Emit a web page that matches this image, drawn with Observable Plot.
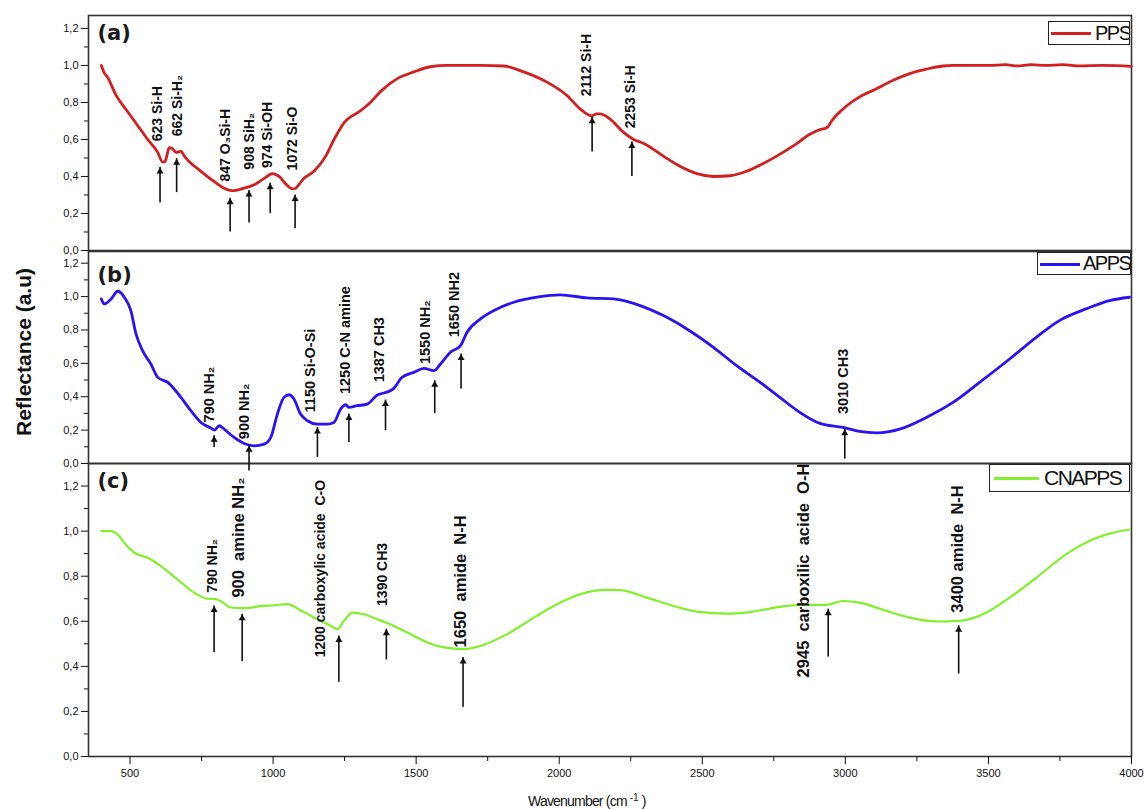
<!DOCTYPE html>
<html><head><meta charset="utf-8">
<script src="https://cdn.jsdelivr.net/npm/d3@7"></script>
<script src="https://cdn.jsdelivr.net/npm/@observablehq/plot@0.6"></script>
<style>
body{margin:0;background:#fff;}
#wrap{position:relative;width:1144px;height:809px;overflow:hidden;background:#fff;font-family:"Liberation Sans",Arial,sans-serif;color:#111;}
.panel{position:absolute;left:0;}
.legend{position:absolute;border:1px solid #222;overflow:hidden;background:#fff;box-sizing:border-box;}
.legend .ln{position:absolute;}
.legend .tx{position:absolute;top:0;font-family:"Liberation Sans",Arial,sans-serif;color:#111;white-space:nowrap;letter-spacing:-1.5px;}
#ytitle{position:absolute;left:-76px;width:200px;text-align:center;font-weight:bold;font-size:21px;line-height:24px;transform:rotate(-90deg);transform-origin:50% 50%;}
#xtitle{position:absolute;left:528px;top:794px;font-size:14px;letter-spacing:-0.8px;white-space:nowrap;line-height:14px;}
#xtitle sup{font-size:10px;position:relative;top:-5px;vertical-align:baseline;letter-spacing:0;margin-left:3px;}
</style></head>
<body><div id="wrap"></div>
<script>
// ---------- data ----------
const ppsSpectrum = [[400,1.00],[410,0.96],[420,0.94],[451,0.84],[492,0.75],[527,0.675],[562,0.60],[597,0.53],[614,0.478],[622,0.48],[630,0.52],[637,0.556],[648,0.55],[657,0.535],[666,0.53],[678,0.537],[690,0.51],[701,0.49],[748,0.428],[794,0.373],[829,0.337],[850,0.325],[864,0.324],[899,0.337],[934,0.355],[969,0.39],[998,0.415],[1010,0.41],[1021,0.40],[1044,0.36],[1068,0.333],[1078,0.335],[1085,0.346],[1108,0.39],[1143,0.428],[1184,0.51],[1213,0.60],[1248,0.69],[1306,0.756],[1340,0.80],[1376,0.86],[1434,0.929],[1492,0.965],[1550,0.993],[1608,1.0],[1725,1.0],[1806,0.997],[1876,0.965],[1957,0.91],[2027,0.838],[2073,0.765],[2100,0.735],[2114,0.728],[2130,0.738],[2143,0.738],[2178,0.71],[2225,0.638],[2260,0.60],[2294,0.58],[2364,0.51],[2422,0.455],[2481,0.415],[2539,0.40],[2597,0.404],[2655,0.428],[2713,0.47],[2760,0.51],[2818,0.565],[2876,0.628],[2917,0.656],[2930,0.66],[2940,0.67],[2952,0.70],[2992,0.765],[3050,0.83],[3109,0.874],[3167,0.92],[3225,0.956],[3283,0.98],[3341,0.997],[3376,1.0],[3500,1.0],[3560,1.004],[3600,0.998],[3650,1.004],[3700,1.0],[3760,1.004],[3820,0.998],[3900,1.0],[4000,0.995]];
const appsSpectrum = [[400,0.986],[410,0.956],[434,0.986],[457,1.032],[470,1.02],[480,0.996],[503,0.916],[521,0.776],[544,0.676],[573,0.596],[597,0.516],[632,0.486],[678,0.396],[713,0.316],[748,0.246],[783,0.212],[795,0.20],[812,0.226],[829,0.206],[864,0.156],[899,0.12],[934,0.106],[969,0.116],[992,0.156],[1015,0.296],[1038,0.396],[1056,0.412],[1073,0.386],[1096,0.296],[1120,0.256],[1154,0.236],[1189,0.236],[1213,0.246],[1236,0.326],[1254,0.352],[1265,0.336],[1294,0.346],[1329,0.356],[1364,0.41],[1393,0.425],[1422,0.45],[1450,0.515],[1492,0.546],[1527,0.57],[1562,0.556],[1585,0.596],[1620,0.666],[1655,0.706],[1678,0.786],[1725,0.866],[1783,0.926],[1841,0.966],[1922,0.996],[2004,1.01],[2097,0.992],[2190,0.986],[2283,0.946],[2364,0.886],[2446,0.806],[2539,0.696],[2620,0.586],[2702,0.486],[2771,0.396],[2841,0.306],[2911,0.24],[2992,0.216],[3050,0.192],[3109,0.184],[3190,0.206],[3283,0.276],[3376,0.366],[3469,0.486],[3574,0.626],[3667,0.756],[3748,0.856],[3841,0.926],[3923,0.976],[3993,0.996]];
const cnappsSpectrum = [[400,1.0],[434,1.0],[457,0.985],[480,0.948],[515,0.904],[562,0.882],[608,0.845],[666,0.786],[724,0.727],[771,0.70],[800,0.698],[817,0.69],[852,0.661],[899,0.658],[957,0.667],[1003,0.671],[1050,0.676],[1096,0.649],[1155,0.609],[1201,0.58],[1225,0.565],[1248,0.602],[1277,0.638],[1318,0.631],[1364,0.609],[1399,0.592],[1469,0.55],[1539,0.506],[1597,0.484],[1666,0.476],[1725,0.491],[1818,0.543],[1911,0.616],[2004,0.683],[2073,0.72],[2167,0.739],[2213,0.738],[2306,0.705],[2399,0.668],[2481,0.643],[2585,0.634],[2678,0.643],[2771,0.664],[2841,0.673],[2934,0.673],[2992,0.69],[3050,0.683],[3143,0.646],[3225,0.616],[3318,0.599],[3399,0.602],[3492,0.638],[3574,0.705],[3667,0.793],[3771,0.897],[3864,0.963],[3934,0.992],[3992,1.007]];

// band annotations: label text anchored at (tx, ty); arrow at ax from a0 up to a1 (data units)
const ppsBands = [
  {label:"623 Si-H", tx:597, ty:0.59, ax:605, a0:0.257, a1:0.448},
  {label:"662 Si-H₂", tx:666, ty:0.617, ax:663, a0:0.313, a1:0.496},
  {label:"847 O₃Si-H", tx:835, ty:0.373, ax:850, a0:0.10, a1:0.283},
  {label:"908 SiH₂", tx:916, ty:0.437, ax:916, a0:0.149, a1:0.324},
  {label:"974 Si-OH", tx:980, ty:0.446, ax:990, a0:0.20, a1:0.364},
  {label:"1072 Si-O", tx:1068, ty:0.433, ax:1077, a0:0.118, a1:0.30},
  {label:"2112 Si-H", tx:2097, ty:0.834, ax:2115, a0:0.532, a1:0.72},
  {label:"2253 Si-H", tx:2248, ty:0.66, ax:2254, a0:0.40, a1:0.586}
];
const appsBands = [
  {label:"790 NH₂", tx:777, ty:0.246, ax:794, a0:0.096, a1:0.166},
  {label:"900 NH₂", tx:899, ty:0.146, ax:916, a0:-0.045, a1:0.106},
  {label:"1150 Si-O-Si", tx:1131, ty:0.306, ax:1155, a0:0.036, a1:0.216},
  {label:"1250 C-N amine", tx:1254, ty:0.416, ax:1265, a0:0.126, a1:0.296},
  {label:"1387 CH3", tx:1370, ty:0.486, ax:1393, a0:0.196, a1:0.38},
  {label:"1550 NH₂", tx:1533, ty:0.596, ax:1565, a0:0.30, a1:0.496},
  {label:"1650 NH2", tx:1632, ty:0.756, ax:1657, a0:0.446, a1:0.656},
  {label:"3010 CH3", tx:2992, ty:0.296, ax:2998, a0:0.026, a1:0.206}
];
const cnappsBands = [
  {label:"790 NH₂", tx:789, ty:0.727, ax:794, a0:0.461, a1:0.668},
  {label:"900  amine NH₂", tx:881, ty:0.705, ax:892, a0:0.422, a1:0.631},
  {label:"1200 carboxylic acide  C-O", tx:1166, ty:0.44, ax:1230, a0:0.329, a1:0.535},
  {label:"1390 CH3", tx:1382, ty:0.668, ax:1396, a0:0.428, a1:0.565},
  {label:"1650  amide  N-H", tx:1655, ty:0.484, ax:1664, a0:0.218, a1:0.439},
  {label:"2945  carboxilic  acide  O-H", tx:2853, ty:0.351, ax:2940, a0:0.442, a1:0.653},
  {label:"3400 amide  N-H", tx:3394, ty:0.638, ax:3396, a0:0.366, a1:0.58}
];
const largeCnappsLabels = ["900  amine NH₂","1650  amide  N-H","2945  carboxilic  acide  O-H","3400 amide  N-H"];

const seriesNames = ["PPS","APPS","CNAPPS"];
const panelTags = ["(a)","(b)","(c)"];
const yMajorTicks = [0,0.2,0.4,0.6,0.8,1.0,1.2];
const yMinorTicks = [0.1,0.3,0.5,0.7,0.9,1.1];
const xMajorTicks = [500,1000,1500,2000,2500,3000,3500,4000];
const xMinorTicks = [750,1250,1750,2250,2750,3250,3750];
const yTitle = "Reflectance (a.u)";
const xTitle = "Wavenumber (cm";

// ---------- drawing ----------
const colors = ["#d21f1f","#2a12f2","#82f02c"];
const xDomain = [355, 4000];
const fmt = d => d.toFixed(1).replace(".", ",");
const wrap = document.getElementById("wrap");

function panel(o) {
  const data = o.spectrum.map(([w, r]) => ({w, r}));
  const marks = [
    Plot.axisY(yMajorTicks, {tickSize:7, tickPadding:3, tickFormat: fmt, label:null, fontSize:11}),
    Plot.axisY(yMinorTicks, {tickSize:4, tickFormat: () => "", label:null}),
    Plot.frame({stroke:"#333", strokeWidth:1.6}),
    Plot.line(data, {x:"w", y:"r", stroke:o.color, strokeWidth:o.sw, curve:"monotone-x"}),
    Plot.ruleX(o.bands, {x:"ax", y1:"a0", y2:"a1", stroke:"#111", strokeWidth:1.6}),
    Plot.dot(o.bands, {x:"ax", y:"a1", symbol:"triangle", r:2.6, fill:"#111", stroke:null, dy:4}),
    Plot.text(o.bands, {x:"tx", y:"ty", text:"label", rotate:-90, textAnchor:"start", lineAnchor:"middle",
      fontWeight:"bold", fontSize:o.fs, fill:"#111", fontFamily:"Liberation Sans, Arial, sans-serif"}),
    Plot.text([o.tag], {text: d => d, frameAnchor:"top-left", dx:9, dy:o.tagDy, textAnchor:"start", lineAnchor:"top",
      fontSize:21, fontWeight:"bold", fontFamily:"DejaVu Sans, Verdana, sans-serif", fill:"#1a1a1a"})
  ];
  if (o.xAxis) {
    marks.push(Plot.axisX(xMajorTicks, {tickSize:8, tickPadding:5, label:null, tickFormat: d => String(d), fontSize:11}));
    marks.push(Plot.axisX(xMinorTicks, {tickSize:5, label:null, tickFormat: () => ""}));
  }
  const svg = Plot.plot({
    width:1144, height:o.height, marginLeft:88, marginRight:13, marginTop:o.mt, marginBottom:o.mb,
    x:{domain:xDomain, axis: o.xAxis ? undefined : null},
    y:{domain:[0, o.yMax]},
    style:{background:"transparent", overflow:"visible", fontFamily:"Liberation Sans, Arial, sans-serif", fontSize:"11px", color:"#111"},
    marks
  });
  svg.classList.add("panel");
  svg.style.top = o.top + "px";
  wrap.appendChild(svg);
}

panel({spectrum:ppsSpectrum, bands:ppsBands, color:colors[0], sw:2.8, fs:14, tag:panelTags[0], tagDy:10,
  top:0, height:250, mt:15, mb:0, yMax:1.27});
panel({spectrum:cnappsSpectrum, bands:cnappsBands, color:colors[2], sw:2.2,
  fs: d => largeCnappsLabels.includes(d.label) ? 16.5 : 14, tag:panelTags[2], tagDy:10,
  top:463, height:346, mt:0, mb:53, yMax:1.3, xAxis:true});
panel({spectrum:appsSpectrum, bands:appsBands, color:colors[1], sw:2.8, fs:14.5, tag:panelTags[1], tagDy:16,
  top:250, height:213, mt:1, mb:0, yMax:1.27});

// legends
function legend(name, color, box, lineBox, textLeft, fontSize) {
  const d = document.createElement("div");
  d.className = "legend";
  Object.assign(d.style, {left:box[0]+"px", top:box[1]+"px", width:box[2]+"px", height:box[3]+"px"});
  const l = document.createElement("div");
  l.className = "ln";
  Object.assign(l.style, {left:lineBox[0]+"px", top:lineBox[1]+"px", width:lineBox[2]+"px", height:lineBox[3]+"px", background:color});
  const t = document.createElement("div");
  t.className = "tx";
  t.textContent = name;
  Object.assign(t.style, {left:textLeft+"px", fontSize:fontSize+"px", lineHeight:(box[3]-2)+"px"});
  d.append(l, t);
  wrap.appendChild(d);
}
legend(seriesNames[0], colors[0], [1048,21,82,24], [2,10,40,3], 46, 20);
legend(seriesNames[1], colors[1], [1037,252,94,23], [2,10,40,3], 45, 20);
legend(seriesNames[2], colors[2], [989,464,141,28], [4,12,45,2.5], 54, 21);

// axis titles
const yt = document.createElement("div");
yt.id = "ytitle"; yt.textContent = yTitle; yt.style.top = (352 - 12) + "px";
wrap.appendChild(yt);
const xt = document.createElement("div");
xt.id = "xtitle";
xt.append(xTitle);
const sup = document.createElement("sup"); sup.textContent = "-1";
xt.append(sup, " )");
wrap.appendChild(xt);
</script>
</body></html>
